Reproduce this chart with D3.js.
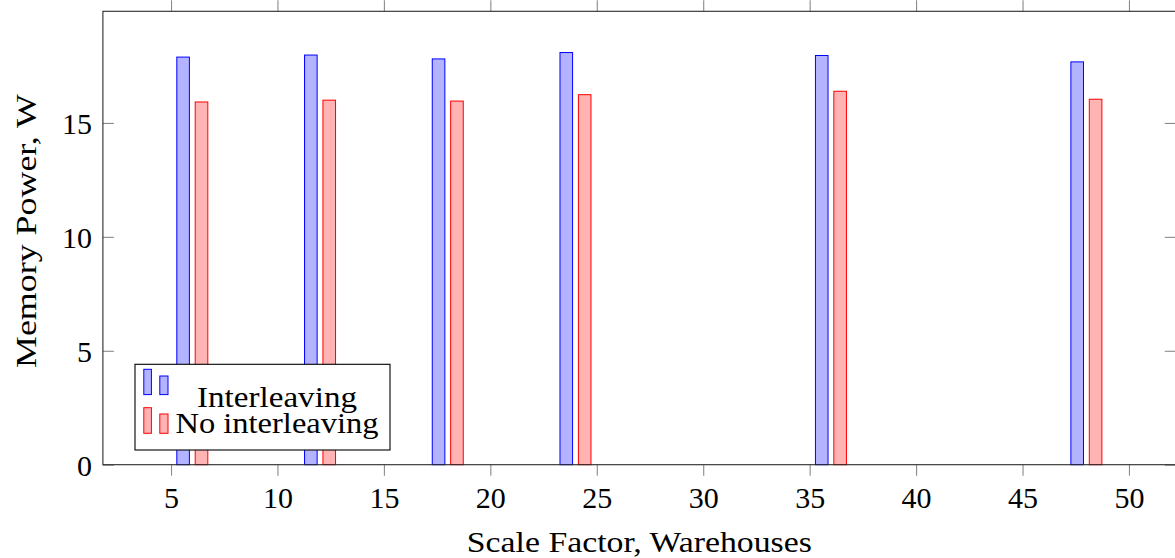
<!DOCTYPE html>
<html>
<head>
<meta charset="utf-8">
<script src="https://cdn.jsdelivr.net/npm/d3@7"></script>
<style>
  html, body { margin: 0; padding: 0; background: #fff; }
  svg { display: block; }
  text { font-family: "Liberation Serif", "Times New Roman", serif; fill: #000; }
</style>
</head>
<body>
<svg id="chart" width="1175" height="558"></svg>
<script>
// ---- data ----
const categories = [6, 12, 18, 24, 36, 48];
const interleaving = [17.89, 17.98, 17.81, 18.09, 17.96, 17.68];
const noInterleaving = [15.92, 16.00, 15.96, 16.24, 16.39, 16.04];
const seriesNames = ["Interleaving", "No interleaving"];
const xTickValues = [5, 10, 15, 20, 25, 30, 35, 40, 45, 50];
const yTickValues = [0, 5, 10, 15];
const xLabel = "Scale Factor, Warehouses";
const yLabel = "Memory Power, W";

// ---- layout ----
const svg = d3.select("#chart");
const L = 102.9, R = 1175.8, T = 11.3, B = 464.7;
const x = d3.scaleLinear().domain([1.8, 52.2]).range([L, R]);
const y = d3.scaleLinear().domain([0, 19.9]).range([B, T]);

const colors = [
  { stroke: "#0000ff", fill: "#b3b3ff" },
  { stroke: "#ff0000", fill: "#ffb3b3" }
];
const series = [interleaving, noInterleaving];
const barOffsets = [[-15.5, -2.9], [2.9, 15.5]];

// bars
series.forEach((vals, si) => {
  svg.append("g").selectAll("rect")
    .data(categories.map((c, i) => ({ c, v: vals[i] })))
    .join("rect")
    .attr("x", d => x(d.c) + barOffsets[si][0])
    .attr("width", barOffsets[si][1] - barOffsets[si][0])
    .attr("y", d => y(d.v))
    .attr("height", d => y(0) - y(d.v))
    .attr("fill", colors[si].fill)
    .attr("stroke", colors[si].stroke)
    .attr("stroke-width", 1);
});

// axes
function styleAxis(g) {
  g.select(".domain").remove();
  g.selectAll(".tick line").attr("stroke", "#8a8a8a").attr("stroke-width", 1.1);
  g.selectAll(".tick text").style("font-size", "30px").attr("fill", "#000");
}

const gBottom = svg.append("g").attr("transform", `translate(0,${B})`)
  .call(d3.axisBottom(x).tickValues(xTickValues).tickSize(11).tickFormat(d3.format("d")))
  .call(styleAxis);
gBottom.selectAll(".tick text").attr("y", 43.6).attr("dy", 0);

svg.append("g").attr("transform", `translate(0,${T})`)
  .call(d3.axisTop(x).tickValues(xTickValues).tickSize(11).tickFormat(""))
  .call(styleAxis);

const gLeft = svg.append("g").attr("transform", `translate(${L},0)`)
  .call(d3.axisLeft(y).tickValues(yTickValues).tickSizeInner(-11).tickSizeOuter(0).tickPadding(11).tickFormat(d3.format("d")))
  .call(styleAxis);
gLeft.selectAll(".tick text").attr("dy", 11);

svg.append("g").attr("transform", `translate(${R},0)`)
  .call(d3.axisRight(y).tickValues(yTickValues).tickSizeInner(-11).tickSizeOuter(0).tickFormat(""))
  .call(styleAxis);

// frame
svg.append("rect")
  .attr("x", L).attr("y", T).attr("width", R - L).attr("height", B - T)
  .attr("fill", "none").attr("stroke", "#2a2a2a").attr("stroke-width", 1.1);

// axis labels
svg.append("text")
  .attr("x", (L + R) / 2).attr("y", 551.7)
  .attr("text-anchor", "middle")
  .style("font-size", "30px")
  .attr("textLength", 345).attr("lengthAdjust", "spacingAndGlyphs")
  .text(xLabel);

svg.append("text")
  .attr("transform", `translate(36,${231}) rotate(-90)`)
  .attr("text-anchor", "middle")
  .style("font-size", "30px")
  .attr("textLength", 274).attr("lengthAdjust", "spacingAndGlyphs")
  .text(yLabel);

// legend
const lg = svg.append("g");
lg.append("rect")
  .attr("x", 135).attr("y", 364.3).attr("width", 255).attr("height", 85.7)
  .attr("fill", "#fff").attr("stroke", "#000").attr("stroke-width", 1.1);

const legendRows = [
  { top1: 369.3, top2: 376, bottom: 394.6, baseline: 406.5, len: 160 },
  { top1: 407.7, top2: 414, bottom: 433.3, baseline: 433.3, len: 203 }
];
seriesNames.forEach((name, i) => {
  const r = legendRows[i];
  lg.append("rect")
    .attr("x", 143.8).attr("y", r.top1).attr("width", 7.6).attr("height", r.bottom - r.top1)
    .attr("fill", colors[i].fill).attr("stroke", colors[i].stroke).attr("stroke-width", 1);
  lg.append("rect")
    .attr("x", 159.8).attr("y", r.top2).attr("width", 8.2).attr("height", r.bottom - r.top2)
    .attr("fill", colors[i].fill).attr("stroke", colors[i].stroke).attr("stroke-width", 1);
  lg.append("text")
    .attr("x", 277).attr("y", r.baseline)
    .attr("text-anchor", "middle")
    .style("font-size", "30px")
    .attr("textLength", r.len).attr("lengthAdjust", "spacingAndGlyphs")
    .text(name);
});
</script>
</body>
</html>
